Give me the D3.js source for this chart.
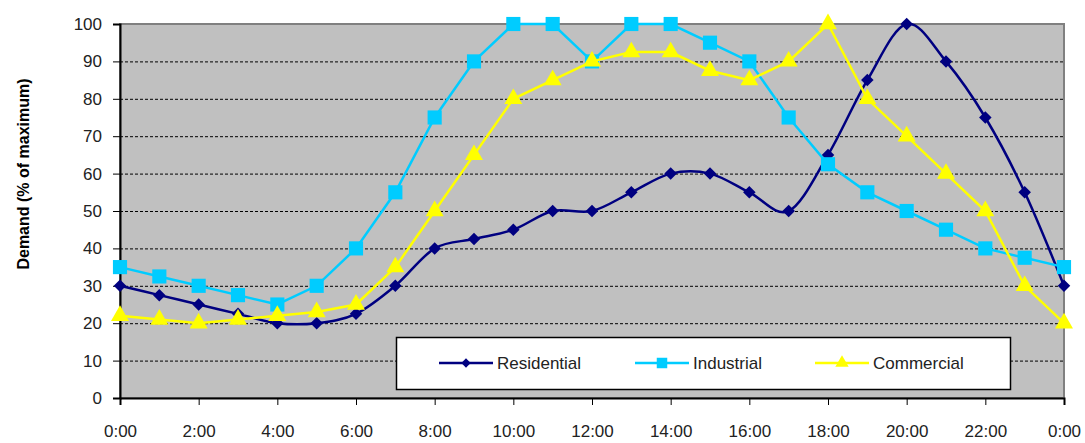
<!DOCTYPE html>
<html lang="en">
<head>
    <meta charset="UTF-8">
    <script src="https://cdn.jsdelivr.net/npm/d3@7"></script>
    <style>
        * { margin: 0; padding: 0; }
        body { background: white; font-family: Arial, "Liberation Sans", sans-serif; }
        svg { display: block; }
        .tick text { fill: #222; }
    </style>
    <title>Demand</title>
</head>
<body>
<div id="chart"></div>
<script>
    // hours 0..24 (last one is 0:00 of next day)
    var hours = d3.range(0, 25);
    var residential = [30, 27.5, 25, 22.5, 20, 20, 22.5, 30, 40, 42.5, 45, 50, 50, 55, 60, 60, 55, 50, 65, 85, 100, 90, 75, 55, 30];
    var industrial  = [35, 32.5, 30, 27.5, 25, 30, 40, 55, 75, 90, 100, 100, 90, 100, 100, 95, 90, 75, 62.5, 55, 50, 45, 40, 37.5, 35];
    var commercial  = [22, 21, 20, 21, 22, 23, 25, 35, 50, 65, 80, 85, 90, 92.5, 92.5, 87.5, 85, 90, 100, 80, 70, 60, 50, 30, 20];
    var xTicks = [0, 2, 4, 6, 8, 10, 12, 14, 16, 18, 20, 22, 24];
    var yTicks = [0, 10, 20, 30, 40, 50, 60, 70, 80, 90, 100];

    var w = 1085, h = 443;
    var plotL = 120, plotR = 1064, plotT = 24, plotB = 398;

    var svg = d3.select("#chart").append("svg")
        .attr("width", w)
        .attr("height", h);

    var xScale = d3.scaleLinear().domain([0, 24]).range([plotL, plotR]);
    var yScale = d3.scaleLinear().domain([0, 100]).range([plotB, plotT]);

    // plot background
    svg.append("rect")
        .attr("x", plotL).attr("y", plotT)
        .attr("width", plotR - plotL).attr("height", plotB - plotT)
        .attr("fill", "#c0c0c0")
        .attr("stroke", "#808080")
        .attr("stroke-width", 2);

    // dashed gridlines
    svg.append("g").selectAll("line")
        .data(yTicks.filter(function(d) { return d > 0 && d < 100; }))
        .enter().append("line")
        .attr("x1", plotL).attr("x2", plotR)
        .attr("y1", function(d) { return yScale(d) + 0.5; })
        .attr("y2", function(d) { return yScale(d) + 0.5; })
        .attr("stroke", "#000")
        .attr("stroke-dasharray", "3,2");

    // axes
    var yAxis = d3.axisLeft(yScale).tickValues(yTicks).tickSize(7).tickPadding(11);
    svg.append("g")
        .attr("transform", "translate(" + plotL + ",0)")
        .call(yAxis)
        .call(function(g) { g.select(".domain").attr("stroke-width", 2); })
        .attr("font-size", "17px")
        .attr("font-family", "Arial, 'Liberation Sans', sans-serif");

    var xAxis = d3.axisBottom(xScale).tickValues(xTicks).tickSize(7).tickPadding(20)
        .tickFormat(function(d) { return (d % 24) + ":00"; });
    svg.append("g")
        .attr("transform", "translate(0," + plotB + ")")
        .call(xAxis)
        .call(function(g) { g.select(".domain").attr("stroke-width", 2); })
        .attr("font-size", "17px")
        .attr("font-family", "Arial, 'Liberation Sans', sans-serif");

    // y label
    svg.append("text")
        .attr("transform", "translate(29,174) rotate(-90)")
        .attr("text-anchor", "middle")
        .attr("font-size", "16px")
        .attr("font-weight", "bold")
        .text("Demand (% of maximum)");

    var series = [
        { name: "Residential", values: residential, color: "#000080", symbol: d3.symbolDiamond2, size: 100, curve: d3.curveCatmullRom.alpha(0) },
        { name: "Industrial", values: industrial, color: "#00ccff", symbol: d3.symbolSquare, size: 200, curve: d3.curveLinear },
        { name: "Commercial", values: commercial, color: "#ffff00", symbol: d3.symbolTriangle, size: 140, curve: d3.curveLinear }
    ];

    var lines = svg.append("g");
    series.forEach(function(s) {
        var line = d3.line()
            .x(function(d, i) { return xScale(hours[i]); })
            .y(function(d) { return yScale(d); })
            .curve(s.curve);
        lines.append("path")
            .attr("d", line(s.values))
            .attr("fill", "none")
            .attr("stroke", s.color)
            .attr("stroke-width", 2.5);
        lines.append("g").selectAll("path")
            .data(s.values)
            .enter().append("path")
            .attr("transform", function(d, i) { return "translate(" + xScale(hours[i]) + "," + yScale(d) + ")"; })
            .attr("d", d3.symbol().type(s.symbol).size(s.size))
            .attr("fill", s.color);
    });

    // legend
    var legend = svg.append("g");
    legend.append("rect")
        .attr("x", 396.5).attr("y", 337.5)
        .attr("width", 614).attr("height", 52)
        .attr("fill", "white")
        .attr("stroke", "#000")
        .attr("stroke-width", 1.5);

    var legendX = [439, 635, 815];
    series.forEach(function(s, i) {
        var lx = legendX[i], ly = 363;
        legend.append("line")
            .attr("x1", lx).attr("x2", lx + 54)
            .attr("y1", ly).attr("y2", ly)
            .attr("stroke", s.color)
            .attr("stroke-width", 2.5);
        legend.append("path")
            .attr("transform", "translate(" + (lx + 27) + "," + ly + ")")
            .attr("d", d3.symbol().type(s.symbol).size(s.size * 0.55))
            .attr("fill", s.color);
        legend.append("text")
            .attr("x", lx + 58).attr("y", ly + 6)
            .attr("font-size", "17px")
            .attr("fill", "#222")
            .text(s.name);
    });
</script>
</body>
</html>
